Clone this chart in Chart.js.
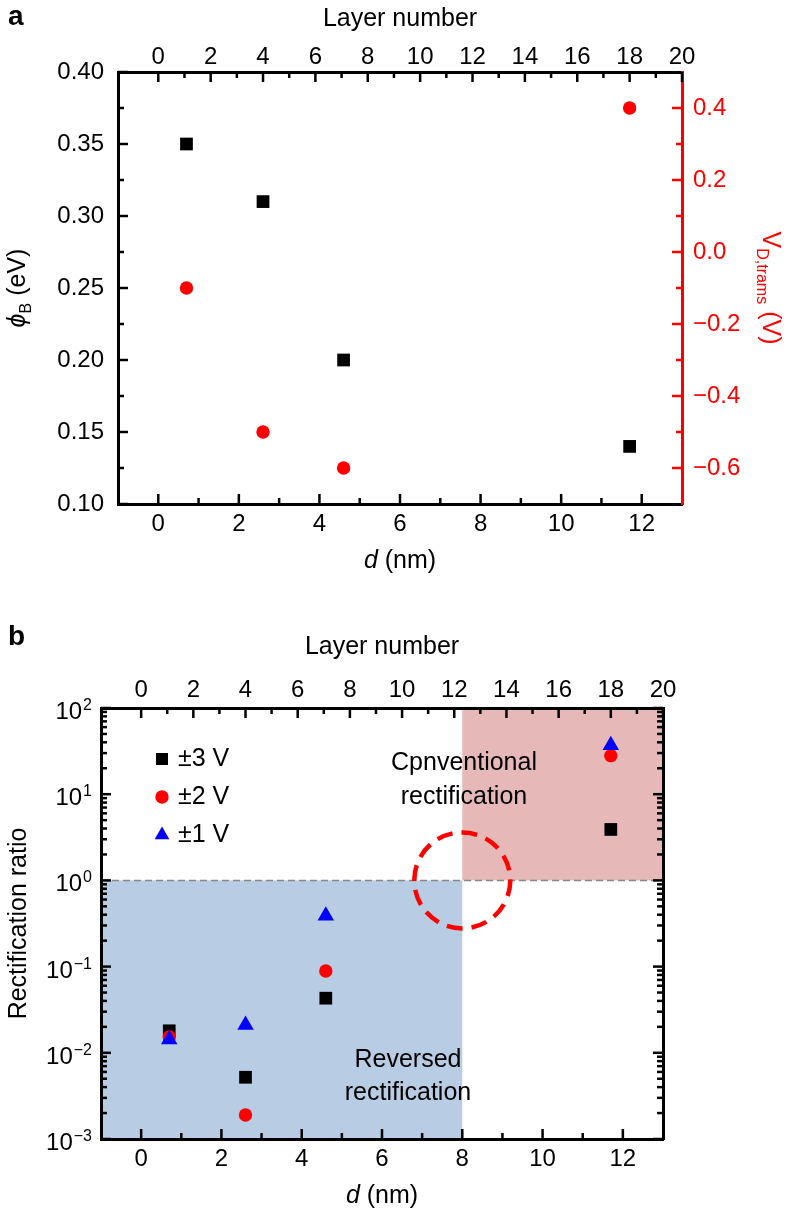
<!DOCTYPE html>
<html>
<head>
<meta charset="utf-8">
<script src="https://cdn.jsdelivr.net/npm/chart.js@4.4.1/dist/chart.umd.min.js"></script>
<style>
  html, body { margin: 0; padding: 0; background: #fff; }
  #wrap { position: relative; width: 786px; height: 1213px; }
  canvas { position: absolute; left: 0; }
  #chartA { top: 0; }
  #chartB { top: 600px; }
</style>
</head>
<body>
<div id="wrap">
  <canvas id="chartA" width="786" height="600"></canvas>
  <canvas id="chartB" width="786" height="613"></canvas>
</div>
<script>
// ---- data ----
const thickness = [0.7, 2.6, 4.6, 11.7];             // d (nm)
const barrierHeight = [0.35, 0.31, 0.20, 0.14];      // phi_B (eV)
const transVoltage = [-0.1, -0.5, -0.6, 0.4];        // V_D,trams (V)

const biasLabels = ['\u00b13 V', '\u00b12 V', '\u00b11 V'];
const ratio3V = [0.018, 0.0052, 0.043, 3.9];
const ratio2V = [0.0153, 0.0019, 0.089, 28];
const ratio1V = [0.0143, 0.021, 0.39, 37];

const dTicks = [0, 2, 4, 6, 8, 10, 12];
const dMinorTicks = [1, 3, 5, 7, 9, 11];
const layerTicks = [0, 2, 4, 6, 8, 10, 12, 14, 16, 18, 20];
const layerMinorTicks = [1, 3, 5, 7, 9, 11, 13, 15, 17, 19];
const phiTicks = [0.10, 0.15, 0.20, 0.25, 0.30, 0.35, 0.40];
const phiMinorTicks = [0.125, 0.175, 0.225, 0.275, 0.325, 0.375];
const voltTicks = [-0.6, -0.4, -0.2, 0.0, 0.2, 0.4];
const voltMinorTicks = [-0.5, -0.3, -0.1, 0.1, 0.3];
const ratioDecades = [-3, -2, -1, 0, 1, 2];

const regionNotes = [['Cpnventional', 'rectification'], ['Reversed', 'rectification']];

const dMin = -1, dMax = 13;
const nmPerLayer = 0.65;
const splitD = 8, splitRatio = 1;

// ---- look ----
const FONT = "'Liberation Sans', Arial, Helvetica, sans-serif";
Chart.defaults.font.family = FONT;
Chart.defaults.font.size = 24;
Chart.defaults.color = '#000';
const BLACK = '#000000', RED = '#ff0000', BLUE = '#0000ff';

function pts(ys) { return thickness.map((x, i) => ({ x: x, y: ys[i] })); }
function asTicks(vals) { return s => { s.ticks = vals.map(v => ({ value: v })); }; }
function fixWidth(w) { return s => { s.width = w; }; }
function fixHeight(h) { return s => { s.height = h; }; }

function richText(ctx, parts, x, y, rot, color) {
  ctx.save();
  ctx.translate(x, y);
  ctx.rotate(rot);
  ctx.fillStyle = color;
  ctx.textAlign = 'left';
  ctx.textBaseline = 'alphabetic';
  let total = 0;
  parts.forEach(p => {
    ctx.font = (p.style || '') + ' ' + p.size + 'px ' + FONT;
    p.w = ctx.measureText(p.t).width;
    total += p.w;
  });
  let cx = -total / 2;
  parts.forEach(p => {
    ctx.font = (p.style || '') + ' ' + p.size + 'px ' + FONT;
    ctx.fillText(p.t, cx, p.dy || 0);
    cx += p.w;
  });
  ctx.restore();
}

// inward ticks, like the original plot
function tickPlugin(id, sets) {
  return {
    id: id,
    afterDraw(chart) {
      const ctx = chart.ctx, a = chart.chartArea;
      ctx.save();
      ctx.lineWidth = 2.5;
      sets.forEach(set => {
        const sc = chart.scales[set.scale];
        ctx.strokeStyle = set.color || BLACK;
        const one = (v, len) => {
          const p = sc.getPixelForValue(v);
          ctx.beginPath();
          if (set.side === 'left') { ctx.moveTo(a.left, p); ctx.lineTo(a.left + len, p); }
          else if (set.side === 'right') { ctx.moveTo(a.right, p); ctx.lineTo(a.right - len, p); }
          else if (set.side === 'top') { ctx.moveTo(p, a.top); ctx.lineTo(p, a.top + len); }
          else { ctx.moveTo(p, a.bottom); ctx.lineTo(p, a.bottom - len); }
          ctx.stroke();
        };
        set.major.forEach(v => one(v, 10));
        set.minor.forEach(v => one(v, 6));
      });
      ctx.restore();
    }
  };
}

function drawMarker(ctx, style, r, x, y) {
  ctx.beginPath();
  if (style === 'rect') {
    const h = Math.SQRT1_2 * r;
    ctx.rect(x - h, y - h, 2 * h, 2 * h);
  } else if (style === 'triangle') {
    for (let k = 0; k < 3; k++) {
      const ang = k * 2 * Math.PI / 3;
      const px = x + Math.sin(ang) * r, py = y - Math.cos(ang) * r;
      if (k === 0) ctx.moveTo(px, py); else ctx.lineTo(px, py);
    }
    ctx.closePath();
  } else {
    ctx.arc(x, y, r, 0, Math.PI * 2);
  }
  ctx.fill();
}

const common = {
  responsive: false,
  animation: false,
  devicePixelRatio: 1,
  events: [],
  layout: { padding: 0, autoPadding: false },
  plugins: { legend: { display: false }, tooltip: { enabled: false } }
};
const noGrid = { display: false, drawTicks: false };

// ================= panel a =================
new Chart(document.getElementById('chartA'), {
  type: 'scatter',
  data: {
    datasets: [
      { label: 'phiB', data: pts(barrierHeight), yAxisID: 'y', pointStyle: 'rect', pointRadius: 9,
        pointBackgroundColor: BLACK, pointBorderColor: BLACK, pointBorderWidth: 0 },
      { label: 'VD', data: pts(transVoltage), yAxisID: 'y2', pointStyle: 'circle', pointRadius: 6.7,
        pointBackgroundColor: RED, pointBorderColor: RED, pointBorderWidth: 0 }
    ]
  },
  options: Object.assign({}, common, {
    scales: {
      x: { type: 'linear', position: 'bottom', min: dMin, max: dMax,
           afterBuildTicks: asTicks(dTicks), afterFit: fixHeight(96),
           grid: noGrid, border: { color: BLACK, width: 3 },
           ticks: { padding: 6, autoSkip: false, maxRotation: 0, callback: v => String(v) } },
      x2: { type: 'linear', axis: 'x', position: 'top', min: dMin / nmPerLayer, max: dMax / nmPerLayer,
           afterBuildTicks: asTicks(layerTicks), afterFit: fixHeight(72),
           grid: noGrid, border: { color: BLACK, width: 3 },
           ticks: { padding: 0, autoSkip: false, maxRotation: 0, callback: v => String(v) },
           title: { display: true, text: 'Layer number', font: { size: 25 }, padding: { top: 4, bottom: 0 } } },
      y: { type: 'linear', position: 'left', min: 0.10, max: 0.40,
           afterBuildTicks: asTicks(phiTicks), afterFit: fixWidth(118),
           grid: noGrid, border: { color: BLACK, width: 3 },
           ticks: { padding: 14, autoSkip: false, callback: v => v.toFixed(2) } },
      y2: { type: 'linear', axis: 'y', position: 'right', min: -0.7, max: 0.5,
           afterBuildTicks: asTicks(voltTicks), afterFit: fixWidth(104),
           grid: noGrid, border: { color: RED, width: 3 },
           ticks: { padding: 11, color: RED, autoSkip: false,
                    callback: v => (v < -1e-9 ? '\u2212' : '') + Math.abs(v).toFixed(1) } }
    }
  }),
  plugins: [
    tickPlugin('ticksA', [
      { scale: 'y', side: 'left', major: phiTicks, minor: phiMinorTicks },
      { scale: 'y2', side: 'right', major: voltTicks, minor: voltMinorTicks, color: RED },
      { scale: 'x', side: 'bottom', major: dTicks, minor: dMinorTicks },
      { scale: 'x2', side: 'top', major: layerTicks, minor: layerMinorTicks }
    ]),
    {
      id: 'textA',
      afterDraw(chart) {
        const ctx = chart.ctx, a = chart.chartArea;
        const midY = (a.top + a.bottom) / 2, midX = (a.left + a.right) / 2;
        richText(ctx, [{ t: '\u03d5', size: 25, style: 'italic' }, { t: 'B', size: 16, dy: 6 }, { t: ' (eV)', size: 25 }],
                 25, midY, -Math.PI / 2, BLACK);
        richText(ctx, [{ t: 'V', size: 25 }, { t: 'D,trams', size: 16, dy: 6 }, { t: ' (V)', size: 25 }],
                 763, midY, Math.PI / 2, RED);
        richText(ctx, [{ t: 'd', size: 25, style: 'italic' }, { t: ' (nm)', size: 25 }], midX, a.bottom + 64, 0, BLACK);
        ctx.save();
        ctx.fillStyle = BLACK;
        ctx.font = 'bold 28px ' + FONT;
        ctx.textBaseline = 'alphabetic';
        ctx.fillText('a', 8, 25);
        ctx.restore();
      }
    }
  ]
});

// ================= panel b =================
const logMajor = ratioDecades.map(e => Math.pow(10, e));
const logMinor = [];
ratioDecades.slice(0, -1).forEach(e => { for (let k = 2; k <= 9; k++) logMinor.push(k * Math.pow(10, e)); });

new Chart(document.getElementById('chartB'), {
  type: 'scatter',
  data: {
    datasets: [
      { label: biasLabels[0], data: pts(ratio3V), pointStyle: 'rect', pointRadius: 9, order: 3,
        pointBackgroundColor: BLACK, pointBorderColor: BLACK, pointBorderWidth: 0 },
      { label: biasLabels[1], data: pts(ratio2V), pointStyle: 'circle', pointRadius: 6.7, order: 2,
        pointBackgroundColor: RED, pointBorderColor: RED, pointBorderWidth: 0 },
      { label: biasLabels[2], data: pts(ratio1V), pointStyle: 'triangle', pointRadius: 9.5, order: 1,
        pointBackgroundColor: BLUE, pointBorderColor: BLUE, pointBorderWidth: 0 }
    ]
  },
  options: Object.assign({}, common, {
    scales: {
      x: { type: 'linear', position: 'bottom', min: dMin, max: dMax,
           afterBuildTicks: asTicks(dTicks), afterFit: fixHeight(74),
           grid: noGrid, border: { color: BLACK, width: 3 },
           ticks: { padding: 6, autoSkip: false, maxRotation: 0, callback: v => String(v) } },
      x2: { type: 'linear', axis: 'x', position: 'top', min: dMin / nmPerLayer, max: dMax / nmPerLayer,
           afterBuildTicks: asTicks(layerTicks), afterFit: fixHeight(108),
           grid: noGrid, border: { color: BLACK, width: 3 },
           ticks: { padding: 3, autoSkip: false, maxRotation: 0, callback: v => String(v) },
           title: { display: true, text: 'Layer number', font: { size: 25 }, padding: { top: 32, bottom: 0 } } },
      y: { type: 'logarithmic', position: 'left', min: 1e-3, max: 1e2, afterFit: fixWidth(101),
           grid: noGrid, border: { color: BLACK, width: 3 }, ticks: { display: false },
           title: { display: true, text: 'Rectification ratio', font: { size: 25 }, padding: { top: 4, bottom: 0 } } },
      y2: { type: 'logarithmic', axis: 'y', position: 'right', min: 1e-3, max: 1e2, afterFit: fixWidth(123),
           grid: noGrid, border: { color: BLACK, width: 3 }, ticks: { display: false } }
    }
  }),
  plugins: [
    {
      id: 'regionsB',
      beforeDraw(chart) {
        const ctx = chart.ctx, a = chart.chartArea;
        const xs = chart.scales.x, ys = chart.scales.y;
        const xs8 = xs.getPixelForValue(splitD), y1 = ys.getPixelForValue(splitRatio);
        ctx.save();
        ctx.fillStyle = '#b8cce4';
        ctx.fillRect(a.left, y1, xs8 - a.left, a.bottom - y1);
        ctx.fillStyle = '#e6b9b8';
        ctx.fillRect(xs8, a.top, a.right - xs8, y1 - a.top);
        ctx.strokeStyle = '#888888';
        ctx.lineWidth = 1.5;
        ctx.setLineDash([7, 4]);
        ctx.beginPath();
        ctx.moveTo(a.left, y1);
        ctx.lineTo(a.right, y1);
        ctx.stroke();
        ctx.restore();
      }
    },
    tickPlugin('ticksB', [
      { scale: 'y', side: 'left', major: logMajor, minor: logMinor },
      { scale: 'y', side: 'right', major: logMajor, minor: logMinor },
      { scale: 'x', side: 'bottom', major: dTicks, minor: dMinorTicks },
      { scale: 'x2', side: 'top', major: layerTicks, minor: layerMinorTicks }
    ]),
    {
      id: 'textB',
      afterDraw(chart) {
        const ctx = chart.ctx, a = chart.chartArea;
        const xs = chart.scales.x, ys = chart.scales.y;
        const midX = (a.left + a.right) / 2;
        ctx.save();
        // decade labels 10^n
        ctx.fillStyle = BLACK;
        ctx.textAlign = 'right';
        ctx.textBaseline = 'alphabetic';
        ratioDecades.forEach(e => {
          const p = ys.getPixelForValue(Math.pow(10, e));
          const exp = (e < 0 ? '\u2212' : '') + Math.abs(e);
          ctx.font = '16px ' + FONT;
          const we = ctx.measureText(exp).width;
          const right = a.left - 9;
          ctx.fillText(exp, right, p + 2);
          ctx.font = '24px ' + FONT;
          ctx.fillText('10', right - we - 1, p + 11);
        });
        // dashed red circle at the crossover
        ctx.strokeStyle = RED;
        ctx.lineWidth = 4.5;
        ctx.setLineDash([16, 9]);
        ctx.beginPath();
        ctx.arc(xs.getPixelForValue(splitD), ys.getPixelForValue(splitRatio), 48, 0, Math.PI * 2);
        ctx.stroke();
        ctx.setLineDash([]);
        // region notes
        ctx.font = '25px ' + FONT;
        ctx.textAlign = 'center';
        ctx.fillText(regionNotes[0][0], 464, a.top + 62);
        ctx.fillText(regionNotes[0][1], 464, a.top + 96);
        ctx.fillText(regionNotes[1][0], 408, a.top + 359);
        ctx.fillText(regionNotes[1][1], 408, a.top + 392);
        // legend
        const rows = [a.top + 51, a.top + 89, a.top + 127];
        chart.data.datasets.forEach((ds, i) => {
          ctx.fillStyle = ds.pointBackgroundColor;
          drawMarker(ctx, ds.pointStyle, ds.pointStyle === 'circle' ? 6.7 : 8.5, 162, rows[i]);
          ctx.fillStyle = BLACK;
          ctx.textAlign = 'left';
          ctx.textBaseline = 'middle';
          ctx.fillText(ds.label, 178, rows[i]);
        });
        ctx.textBaseline = 'alphabetic';
        ctx.restore();
        richText(ctx, [{ t: 'd', size: 25, style: 'italic' }, { t: ' (nm)', size: 25 }], midX, a.bottom + 64, 0, BLACK);
        ctx.save();
        ctx.fillStyle = BLACK;
        ctx.font = 'bold 28px ' + FONT;
        ctx.fillText('b', 8, 45);
        ctx.restore();
      }
    }
  ]
});
</script>
</body>
</html>
